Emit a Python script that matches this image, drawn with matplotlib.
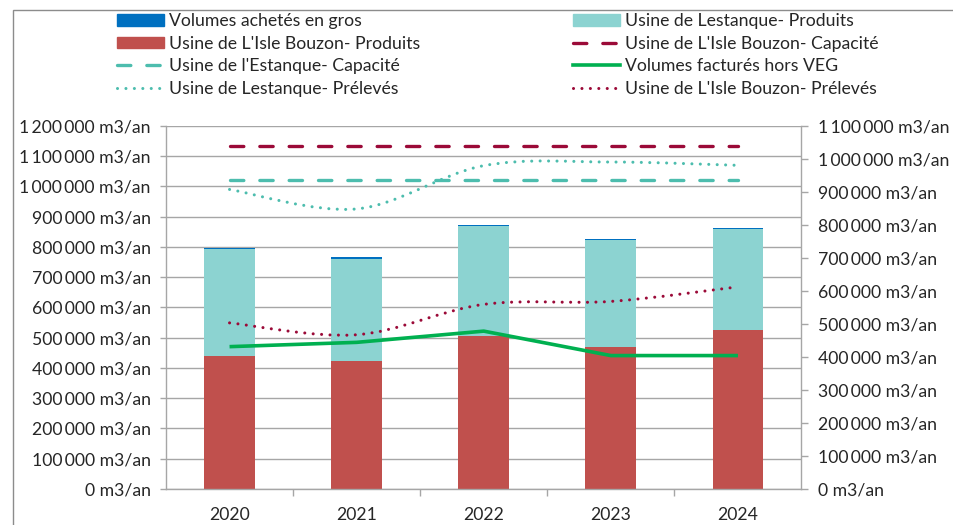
import matplotlib
matplotlib.use("Agg")
import matplotlib.pyplot as plt
from matplotlib.path import Path
from matplotlib.patches import PathPatch, Rectangle, Patch
from matplotlib.lines import Line2D
from matplotlib.ticker import FuncFormatter, MultipleLocator, FixedLocator
import numpy as np

plt.rcParams['font.family'] = ['Lato', 'DejaVu Sans']

# ---------------- data ----------------
years = ['2020', '2021', '2022', '2023', '2024']
isle_produits = [440000, 423000, 505000, 470000, 525000]
lestanque_produits = [352000, 338000, 363000, 352000, 333000]
achats_gros = [5000, 5000, 5000, 4500, 4500]
isle_capacite = [1040000, 1040000, 1040000, 1040000, 1040000]
estanque_capacite = [935000, 935000, 935000, 935000, 935000]
factures_hors_veg = [431000, 444000, 478000, 404000, 404000]
lestanque_preleves = [907000, 848000, 979000, 990000, 980000]
isle_preleves = [503000, 467000, 559000, 568000, 612000]

lbl_gros = "Volumes achetés en gros"
lbl_lest_prod = "Usine de Lestanque- Produits"
lbl_isle_prod = "Usine de L'Isle Bouzon- Produits"
lbl_isle_cap = "Usine de L'Isle Bouzon- Capacité"
lbl_est_cap = "Usine de l'Estanque- Capacité"
lbl_fact = "Volumes facturés hors VEG"
lbl_lest_prel = "Usine de Lestanque- Prélevés"
lbl_isle_prel = "Usine de L'Isle Bouzon- Prélevés"

# ---------------- style ----------------
C_BLUE = '#0070C0'
C_CYAN = '#8CD3D1'
C_RED = '#C0504D'
C_DRED = '#9B0A38'
C_TEAL = '#4DBDAE'
C_GREEN = '#00B050'
C_GRID = '#A6A6A6'
C_TEXT = '#262626'
FS = 12.7

W, H = 954, 525
fig = plt.figure(figsize=(W / 100, H / 100), dpi=100)
fig.patch.set_facecolor('white')

# outer chart border
fig.add_artist(Rectangle((13.3 / W, -0.1), 1.2, 1 - 10 / H + 0.1, transform=fig.transFigure,
                         fill=False, edgecolor='#8C8C8C', linewidth=1.0))

L, R, B, T = 166, 801.5, 489, 125.7
ax = fig.add_axes([L / W, 1 - B / H, (R - L) / W, (B - T) / H])
ax2 = ax.twinx()

x = np.arange(len(years))
bw = 0.4
ax.bar(x, isle_produits, bw, color=C_RED, linewidth=0, zorder=2)
bottom2 = np.array(isle_produits)
ax.bar(x, lestanque_produits, bw, bottom=bottom2, color=C_CYAN, linewidth=0, zorder=2)
bottom3 = bottom2 + np.array(lestanque_produits)
ax.bar(x, achats_gros, bw, bottom=bottom3, color=C_BLUE, linewidth=0, zorder=2)

ax.set_xlim(-0.5, len(years) - 0.5)
ax.set_ylim(0, 1200000)
ax2.set_ylim(0, 1100000)
ax.yaxis.set_major_locator(MultipleLocator(100000))
ax2.yaxis.set_major_locator(MultipleLocator(100000))


def fmt(v, pos):
    v = int(round(v))
    s = f"{v:,}".replace(",", "\u2009")
    return f"{s} m3/an"


ax.yaxis.set_major_formatter(FuncFormatter(fmt))
ax2.yaxis.set_major_formatter(FuncFormatter(fmt))

ax.grid(axis='y', color=C_GRID, linewidth=1.0, zorder=0)
ax.set_axisbelow(True)

for a in (ax, ax2):
    a.spines['top'].set_visible(False)
    for s in ('left', 'right', 'bottom'):
        a.spines[s].set_color(C_GRID)
        a.spines[s].set_linewidth(1.0)
ax.spines['right'].set_visible(False)
ax2.spines['left'].set_visible(False)
ax2.spines['bottom'].set_visible(False)

ax.tick_params(axis='y', direction='out', length=4, width=1, color=C_GRID, pad=7,
               labelsize=FS, labelcolor=C_TEXT)
ax2.tick_params(axis='y', direction='out', length=5, width=1, color=C_GRID, pad=7,
                labelsize=FS, labelcolor=C_TEXT)

ax.set_xticks(x)
ax.set_xticklabels(years)
ax.xaxis.set_minor_locator(FixedLocator(np.arange(0.5, len(years) - 0.5, 1.0)))
ax.tick_params(axis='x', which='major', length=0, pad=13, labelsize=FS, labelcolor=C_TEXT)
ax.tick_params(axis='x', which='minor', direction='out', length=5, width=1, color=C_GRID)
ax.set_facecolor('none')


# ---------------- lines (secondary axis) ----------------
def smooth_path(xs, ys):
    pts = np.column_stack([xs, ys]).astype(float)
    n = len(pts)
    verts = [pts[0]]
    codes = [Path.MOVETO]
    for i in range(n - 1):
        p0 = pts[i - 1] if i > 0 else pts[i]
        p1 = pts[i]
        p2 = pts[i + 1]
        p3 = pts[i + 2] if i + 2 < n else pts[i + 1]
        c1 = p1 + (p2 - p0) / 6.0
        c2 = p2 - (p3 - p1) / 6.0
        verts += [c1, c2, p2]
        codes += [Path.CURVE4] * 3
    return Path(verts, codes)


DASH_LW = 2.4
DOT_LW = 2.2
dash_style = (0, (4.0, 4.8))
dot_style = (0, (0.01, 2.75))

ax2.plot(x, isle_capacite, color=C_DRED, lw=DASH_LW, linestyle=dash_style,
         dash_capstyle='round', zorder=3)
ax2.plot(x, estanque_capacite, color=C_TEAL, lw=DASH_LW, linestyle=dash_style,
         dash_capstyle='round', zorder=3)

for ys, col in ((lestanque_preleves, C_TEAL), (isle_preleves, C_DRED)):
    pp = PathPatch(smooth_path(x, ys), fill=False, edgecolor=col, linewidth=DOT_LW,
                   linestyle=dot_style, transform=ax2.transData, zorder=3)
    pp.set_capstyle('round')
    ax2.add_patch(pp)

ax2.plot(x, factures_hors_veg, color=C_GREEN, lw=2.6, solid_joinstyle='round',
         solid_capstyle='butt', zorder=4)

# ---------------- legend ----------------
h_gros = Patch(color=C_BLUE, label=lbl_gros)
h_lest = Patch(color=C_CYAN, label=lbl_lest_prod)
h_isle = Patch(color=C_RED, label=lbl_isle_prod)
h_icap = Line2D([], [], color=C_DRED, lw=DASH_LW, linestyle=dash_style,
                dash_capstyle='round', label=lbl_isle_cap)
h_ecap = Line2D([], [], color=C_TEAL, lw=DASH_LW, linestyle=dash_style,
                dash_capstyle='round', label=lbl_est_cap)
h_fact = Line2D([], [], color=C_GREEN, lw=2.6, label=lbl_fact)
h_lprel = Line2D([], [], color=C_TEAL, lw=DOT_LW, linestyle=dot_style,
                 dash_capstyle='round', label=lbl_lest_prel)
h_iprel = Line2D([], [], color=C_DRED, lw=DOT_LW, linestyle=dot_style,
                 dash_capstyle='round', label=lbl_isle_prel)

leg_kw = dict(loc='upper left', frameon=False, borderpad=0, borderaxespad=0,
              handlelength=2.65, handletextpad=0.3, labelspacing=0.38,
              fontsize=FS, labelcolor=C_TEXT, handleheight=0.65)
fig.legend(handles=[h_gros, h_isle, h_ecap, h_lprel],
           bbox_to_anchor=(117 / W, 1 - 13 / H), **leg_kw)
fig.legend(handles=[h_lest, h_icap, h_fact, h_iprel],
           bbox_to_anchor=(573 / W, 1 - 13 / H), **leg_kw)

fig.savefig('out.png', dpi=100)
